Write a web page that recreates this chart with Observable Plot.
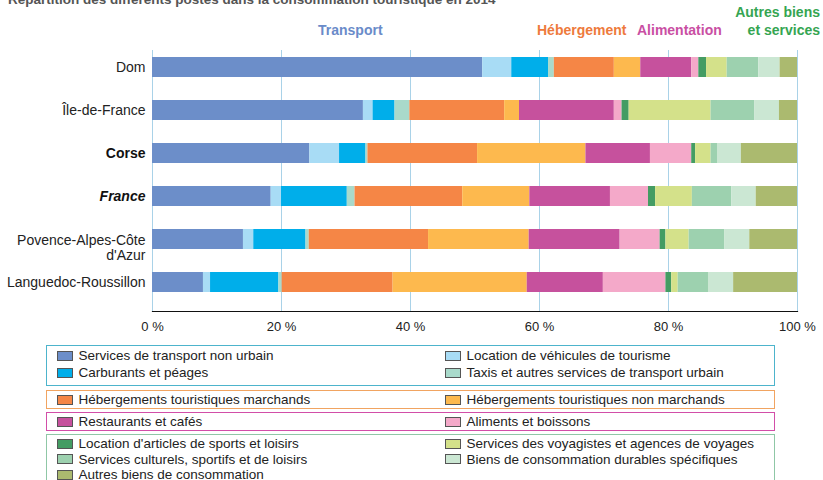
<!DOCTYPE html>
<html><head><meta charset="utf-8">
<script src="https://cdn.jsdelivr.net/npm/d3@7"></script>
<script src="https://cdn.jsdelivr.net/npm/@observablehq/plot@0.6"></script>
<style>
body{margin:0;background:#fff;font-family:"Liberation Sans",Arial,sans-serif;color:#222;}
#wrap{position:relative;width:823px;height:480px;overflow:hidden;}
#title{position:absolute;left:8px;top:-7px;font-size:13.5px;font-weight:bold;color:#555;line-height:13px;white-space:nowrap;}
.grp{position:absolute;font-size:14px;font-weight:bold;line-height:18px;white-space:pre;}
.box{position:absolute;left:46px;width:727px;box-sizing:content-box;border:1.5px solid #999;display:grid;grid-template-columns:388px auto;}
.item{display:flex;align-items:center;font-size:13.5px;white-space:nowrap;}
.sw{width:14px;height:8px;border:1px solid #555;margin-left:9.5px;margin-right:6px;flex:none;}
</style></head><body><div id="wrap"><div id="title">Répartition des différents postes dans la consommation touristique en 2014</div></div>
<script>
const regions = ["Dom", "Île-de-France", "Corse", "France", "Povence-Alpes-Côte d'Azur", "Languedoc-Roussillon"];
const regionLabels = ["Dom", "Île-de-France", "Corse", "France", "Povence-Alpes-Côte\nd'Azur", "Languedoc-Roussillon"];
const categories = [
  "Services de transport non urbain",
  "Location de véhicules de tourisme",
  "Carburants et péages",
  "Taxis et autres services de transport urbain",
  "Hébergements touristiques marchands",
  "Hébergements touristiques non marchands",
  "Restaurants et cafés",
  "Aliments et boissons",
  "Location d'articles de sports et loisirs",
  "Services des voyagistes et agences de voyages",
  "Services culturels, sportifs et de loisirs",
  "Biens de consommation durables spécifiques",
  "Autres biens de consommation"
];
const colors = ["#6c8ec9", "#a8dcf5", "#00aeea", "#a9dacb", "#f58646", "#fdb94e", "#c6519d", "#f4a9c9", "#449c63", "#d4e18a", "#9dd1af", "#cbe7d3", "#abba6f"];

const valuesDom      = [51.2, 4.5, 5.7, 0.9, 9.3, 4.1, 7.9, 1.1, 1.2, 3.2, 4.9, 3.3, 2.7];
const valuesIdf      = [32.7, 1.5, 3.4, 2.3, 14.7, 2.3, 14.7, 1.2, 1.1, 12.7, 6.8, 3.8, 2.8];
const valuesCorse    = [24.4, 4.6, 4.1, 0.3, 17.0, 16.8, 10.0, 6.4, 0.6, 2.4, 1.0, 3.7, 8.7];
const valuesFrance   = [18.4, 1.6, 10.2, 1.2, 16.7, 10.4, 12.5, 5.9, 1.1, 5.7, 6.1, 3.8, 6.4];
const valuesPaca     = [14.1, 1.6, 8.1, 0.5, 18.5, 15.6, 14.1, 6.2, 0.9, 3.6, 5.5, 3.9, 7.4];
const valuesLr       = [7.9, 1.1, 10.6, 0.5, 17.2, 20.8, 11.8, 9.7, 0.9, 1.0, 4.7, 3.9, 9.9];
const regionValues = [valuesDom, valuesIdf, valuesCorse, valuesFrance, valuesPaca, valuesLr];

const xTicks = [0, 20, 40, 60, 80, 100];
const groupLabels = ["Transport", "Hébergement", "Alimentation", "Autres biens\net services"];
const groupColors = ["#6a8bc9", "#ee7a3c", "#c94fa3", "#35a552"];
const legendBoxes = [[0, 1, 2, 3], [4, 5], [6, 7], [8, 9, 10, 11, 12]];
const boxColors = ["#4db4cc", "#f1a461", "#d24ea8", "#8fc7a6"];

const table = [];
regions.forEach((r, i) => categories.forEach((c, j) => table.push({region: r, category: c, value: regionValues[i][j]})));
const labelData = regions.map((r, i) => ({region: r, label: regionLabels[i]}));
const regular = labelData.filter(d => ["Dom", "Île-de-France", "Languedoc-Roussillon"].includes(d.region));
const twoLine = labelData.filter(d => d.region === regions[4]);
const bold = labelData.filter(d => d.region === "Corse");
const boldItalic = labelData.filter(d => d.region === "France");

const plot = Plot.plot({
  width: 823,
  height: 340,
  marginLeft: 152,
  marginRight: 26,
  marginTop: 50,
  marginBottom: 29,
  style: {fontFamily: "'Liberation Sans', Arial, sans-serif", fontSize: "13px", color: "#222", background: "transparent"},
  x: {domain: [0, 100], ticks: xTicks, tickFormat: d => d + " %", tickSize: 0, tickPadding: 10, label: null},
  y: {domain: regions, paddingInner: 0.54, paddingOuter: 0.291, align: 0.28, axis: null},
  color: {domain: categories, range: colors},
  marks: [
    Plot.ruleX(xTicks, {stroke: "#a9d2e8", strokeWidth: 1}),
    Plot.barX(table, Plot.stackX({x: "value", y: "region", fill: "category"})),
    Plot.frame({anchor: "bottom", stroke: "#111", strokeWidth: 1.2}),
    Plot.text(regular, {y: "region", text: "label", frameAnchor: "left", textAnchor: "end", dx: -7, fontSize: 14, fill: "#222"}),
    Plot.text(twoLine, {y: "region", text: "label", frameAnchor: "left", textAnchor: "end", dx: -7, dy: 8, lineHeight: 1.1, fontSize: 14, fill: "#222"}),
    Plot.text(bold, {y: "region", text: "label", frameAnchor: "left", textAnchor: "end", dx: -7, fontSize: 14, fontWeight: "bold", fill: "#111"}),
    Plot.text(boldItalic, {y: "region", text: "label", frameAnchor: "left", textAnchor: "end", dx: -7, fontSize: 14, fontWeight: "bold", fontStyle: "italic", fill: "#111"})
  ]
});
plot.style.position = "absolute";
plot.style.left = "0px";
plot.style.top = "0px";
const wrap = document.getElementById("wrap");
wrap.appendChild(plot);

// group labels
const grpPos = [{left: 318, top: 21}, {left: 537, top: 21}, {left: 637, top: 21}, {right: 3, top: 3}];
groupLabels.forEach((g, i) => {
  const d = document.createElement("div");
  d.className = "grp";
  d.textContent = g;
  d.style.color = groupColors[i];
  const p = grpPos[i];
  d.style.top = p.top + "px";
  if (p.left != null) d.style.left = p.left + "px";
  if (p.right != null) { d.style.right = p.right + "px"; d.style.textAlign = "right"; }
  wrap.appendChild(d);
});

// legend boxes
const boxTops = [345, 390, 412, 434];
const boxLine = [17.3, 17, 17, 15.5];
const boxPad = ["1px 0 3px 0", "0", "0", "1px 0 6px 0"];
legendBoxes.forEach((idx, b) => {
  const box = document.createElement("div");
  box.className = "box";
  box.style.top = boxTops[b] + "px";
  box.style.borderColor = boxColors[b];
  box.style.padding = boxPad[b];
  idx.forEach(k => {
    const it = document.createElement("div");
    it.className = "item";
    it.style.lineHeight = boxLine[b] + "px";
    it.style.height = boxLine[b] + "px";
    const sw = document.createElement("span");
    sw.className = "sw";
    sw.style.background = colors[k];
    const tx = document.createElement("span");
    tx.textContent = categories[k];
    it.appendChild(sw);
    it.appendChild(tx);
    box.appendChild(it);
  });
  wrap.appendChild(box);
});
</script></body></html>
